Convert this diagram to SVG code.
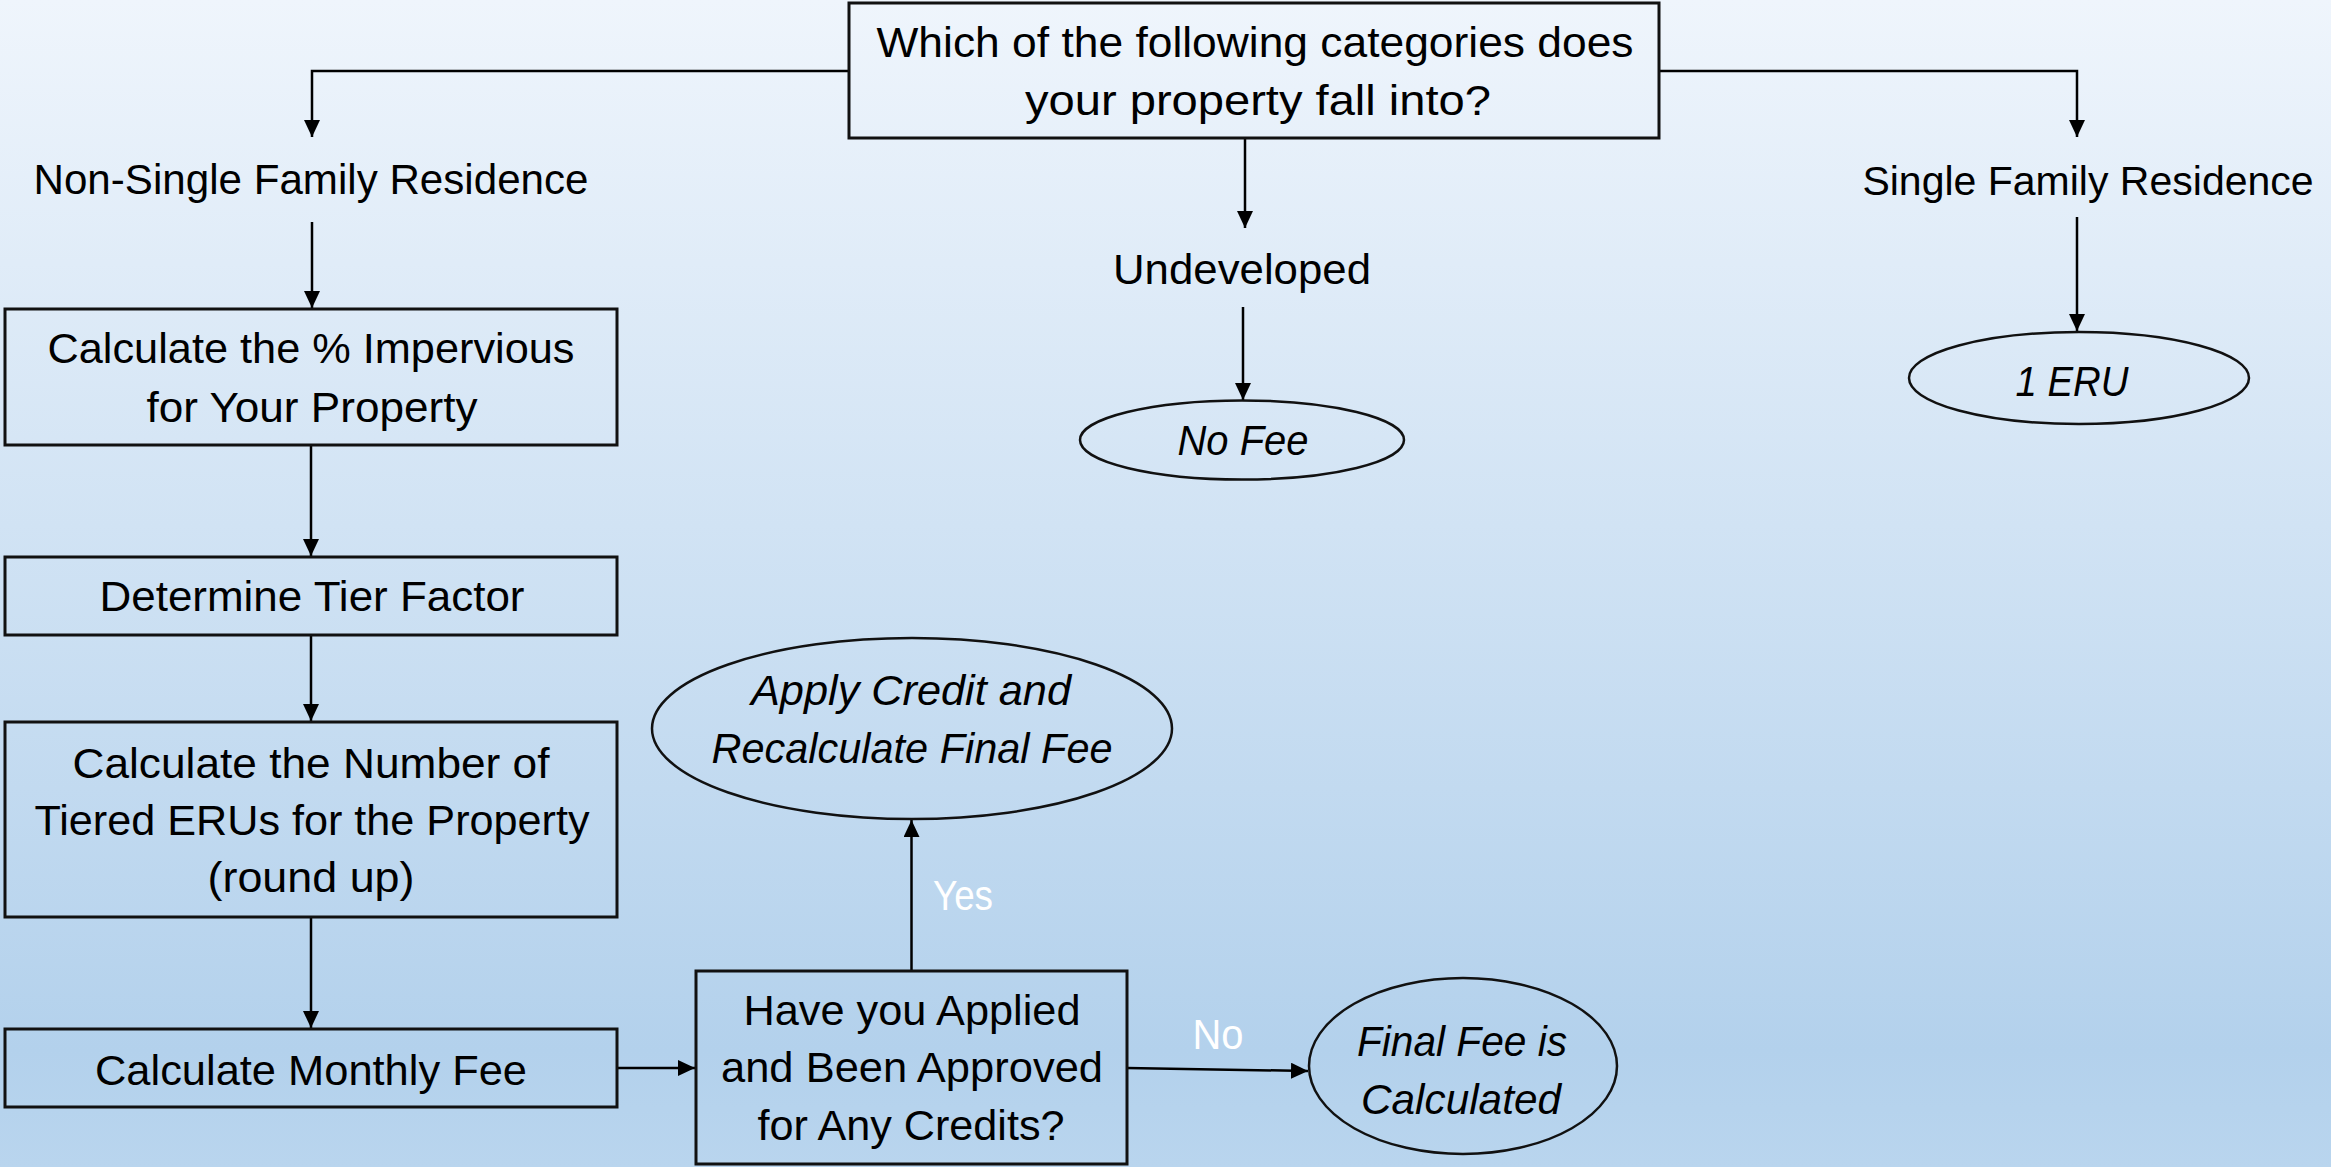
<svg xmlns="http://www.w3.org/2000/svg" width="2331" height="1167" viewBox="0 0 2331 1167">
<defs>
<linearGradient id="bg" x1="0" y1="0" x2="0" y2="1">
<stop offset="0" stop-color="#EFF5FC"/>
<stop offset="0.9" stop-color="#B3D1EC"/>
<stop offset="1" stop-color="#B9D5EE"/>
</linearGradient>
<marker id="arr" markerUnits="userSpaceOnUse" markerWidth="18" markerHeight="16" refX="17" refY="8" orient="auto">
<path d="M0,0 L17,8 L0,16 z" fill="#000"/>
</marker>
</defs>
<style>
.box{fill:none;stroke:#111;stroke-width:3}
.ell{fill:none;stroke:#111;stroke-width:2.5}
.t{font-family:"Liberation Sans",Arial,sans-serif;font-size:43px;fill:#000;text-anchor:middle}
.i{font-style:italic}
.w{fill:#fff}
.c{fill:none;stroke:#000;stroke-width:2.5;marker-end:url(#arr)}
</style>
<rect x="0" y="0" width="2331" height="1167" fill="url(#bg)"/>
<g id="connectors">
<path class="c" d="M849,71 H312 V137"/>
<path class="c" d="M1659,71 H2077 V137"/>
<path class="c" d="M1245,138 V228"/>
<path class="c" d="M312,222 V308"/>
<path class="c" d="M1243,307 V400"/>
<path class="c" d="M2077,217 V331"/>
<path class="c" d="M311,445 V556"/>
<path class="c" d="M311,635 V721"/>
<path class="c" d="M311,917 V1028"/>
<path class="c" d="M617,1068 H695"/>
<path class="c" d="M911.5,971 V820"/>
<path class="c" d="M1127,1068 L1308,1071"/>
<text class="t w" x="963" y="910" textLength="60" lengthAdjust="spacingAndGlyphs">Yes</text>
<text class="t w" x="1218" y="1049" textLength="51" lengthAdjust="spacingAndGlyphs">No</text>
</g>
<g id="question">
<rect class="box" x="849" y="3" width="810" height="135"/>
<text class="t" x="1255" y="57" textLength="757" lengthAdjust="spacingAndGlyphs">Which of the following categories does</text>
<text class="t" x="1258" y="115" textLength="466" lengthAdjust="spacingAndGlyphs">your property fall into?</text>
</g>
<g id="nsfr">
<text class="t" x="311" y="194" textLength="555" lengthAdjust="spacingAndGlyphs">Non-Single Family Residence</text>
</g>
<g id="undeveloped">
<text class="t" x="1242" y="284" textLength="258" lengthAdjust="spacingAndGlyphs">Undeveloped</text>
</g>
<g id="sfr">
<text class="t" x="2088" y="195" style="font-size:41px">Single Family Residence</text>
</g>
<g id="nofee">
<ellipse class="ell" cx="1242" cy="440" rx="162" ry="39.5"/>
<text class="t i" x="1243" y="455" textLength="131" lengthAdjust="spacingAndGlyphs">No Fee</text>
</g>
<g id="eru">
<ellipse class="ell" cx="2079" cy="378" rx="170" ry="46"/>
<text class="t i" x="2072" y="396" textLength="113" lengthAdjust="spacingAndGlyphs">1 ERU</text>
</g>
<g id="impervious">
<rect class="box" x="5" y="309" width="612" height="136"/>
<text class="t" x="311" y="363" textLength="527" lengthAdjust="spacingAndGlyphs">Calculate the % Impervious</text>
<text class="t" x="312" y="422" textLength="331" lengthAdjust="spacingAndGlyphs">for Your Property</text>
</g>
<g id="tier">
<rect class="box" x="5" y="557" width="612" height="78"/>
<text class="t" x="312" y="611" textLength="425" lengthAdjust="spacingAndGlyphs">Determine Tier Factor</text>
</g>
<g id="erus">
<rect class="box" x="5" y="722" width="612" height="195"/>
<text class="t" x="311" y="778" textLength="477" lengthAdjust="spacingAndGlyphs">Calculate the Number of</text>
<text class="t" x="312" y="835" textLength="555" lengthAdjust="spacingAndGlyphs">Tiered ERUs for the Property</text>
<text class="t" x="311" y="892" textLength="207" lengthAdjust="spacingAndGlyphs">(round up)</text>
</g>
<g id="monthly">
<rect class="box" x="5" y="1029" width="612" height="78"/>
<text class="t" x="311" y="1085" textLength="432" lengthAdjust="spacingAndGlyphs">Calculate Monthly Fee</text>
</g>
<g id="credits">
<rect class="box" x="696" y="971" width="431" height="193"/>
<text class="t" x="912" y="1025" textLength="337" lengthAdjust="spacingAndGlyphs">Have you Applied</text>
<text class="t" x="912" y="1082" textLength="382" lengthAdjust="spacingAndGlyphs">and Been Approved</text>
<text class="t" x="911" y="1140" textLength="307" lengthAdjust="spacingAndGlyphs">for Any Credits?</text>
</g>
<g id="apply">
<ellipse class="ell" cx="912" cy="728.5" rx="260" ry="90.5"/>
<text class="t i" x="911" y="705" textLength="320" lengthAdjust="spacingAndGlyphs">Apply Credit and</text>
<text class="t i" x="912" y="763" textLength="401" lengthAdjust="spacingAndGlyphs">Recalculate Final Fee</text>
</g>
<g id="final">
<ellipse class="ell" cx="1463" cy="1066" rx="154" ry="88"/>
<text class="t i" x="1462" y="1056" textLength="210" lengthAdjust="spacingAndGlyphs">Final Fee is</text>
<text class="t i" x="1461" y="1114" textLength="200" lengthAdjust="spacingAndGlyphs">Calculated</text>
</g>
</svg>
